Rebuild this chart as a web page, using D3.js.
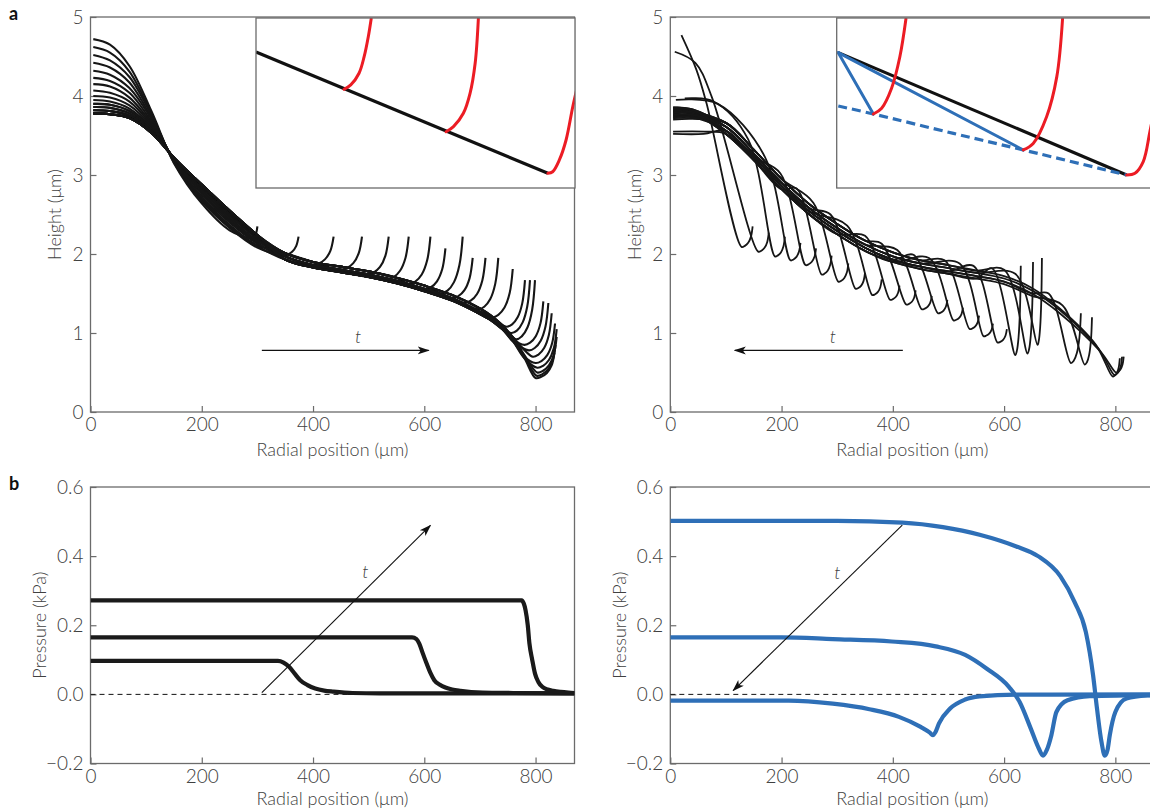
<!DOCTYPE html>
<html>
<head>
<meta charset="utf-8">
<script src="https://cdn.jsdelivr.net/npm/d3@7"></script>
<style>
  body { margin: 0; background: #fff; }
  svg text { font-family: Lato, "Open Sans", sans-serif; fill: #404040; }
</style>
</head>
<body>
<script>
// ---------- shared axes
const xDomain = [0, 870];
const xTicks = [0, 200, 400, 600, 800];
const hTicks = [0, 1, 2, 3, 4, 5];
const pTicks = [-0.2, 0, 0.2, 0.4, 0.6];

// ---------- a, left: film height, fronts moving out
// left part of each profile (x = 5..300), one row per start height
const profX = [5, 35, 70, 110, 150, 200, 250, 300];
const profH = [
  [3.78, 3.77, 3.72, 3.53, 3.22, 2.88, 2.55, 2.24],
  [3.82, 3.81, 3.75, 3.55, 3.22, 2.87, 2.54, 2.23],
  [3.86, 3.85, 3.78, 3.56, 3.22, 2.86, 2.53, 2.22],
  [3.90, 3.89, 3.81, 3.58, 3.21, 2.85, 2.52, 2.21],
  [3.95, 3.93, 3.84, 3.59, 3.21, 2.83, 2.50, 2.20],
  [4.00, 3.98, 3.88, 3.61, 3.21, 2.82, 2.48, 2.19],
  [4.07, 4.04, 3.93, 3.63, 3.20, 2.80, 2.46, 2.17],
  [4.15, 4.12, 3.98, 3.65, 3.20, 2.78, 2.44, 2.16],
  [4.23, 4.19, 4.04, 3.67, 3.19, 2.76, 2.42, 2.14],
  [4.32, 4.27, 4.10, 3.70, 3.19, 2.73, 2.40, 2.13],
  [4.42, 4.36, 4.17, 3.72, 3.18, 2.71, 2.37, 2.11],
  [4.52, 4.45, 4.24, 3.75, 3.17, 2.69, 2.35, 2.10],
  [4.62, 4.55, 4.31, 3.77, 3.16, 2.67, 2.33, 2.08],
  [4.72, 4.65, 4.38, 3.80, 3.15, 2.64, 2.30, 2.06]
];
// outer profile (x = 350..800), three slightly different rows
const baseX = [350, 400, 450, 500, 550, 600, 650, 700, 720, 740, 760, 780, 795, 800];
const baseH = [
  [2.01, 1.90, 1.84, 1.78, 1.70, 1.60, 1.48, 1.31, 1.22, 1.10, 0.94, 0.72, 0.52, 0.45],
  [1.97, 1.86, 1.80, 1.74, 1.66, 1.56, 1.44, 1.27, 1.19, 1.08, 0.92, 0.70, 0.50, 0.43],
  [1.93, 1.83, 1.77, 1.71, 1.63, 1.53, 1.41, 1.24, 1.16, 1.05, 0.89, 0.68, 0.49, 0.43]
];
// per curve: start row, outer row, foot of the rim, tip of the rim
const aProf = [13, 12, 11, 10, 9, 8, 7, 6, 5, 4, 3, 3, 2, 2, 1, 1, 1, 0, 0, 0, 0, 0, 0, 0];
const aBase = [0, 1, 2, 0, 1, 2, 0, 1, 2, 0, 1, 2, 0, 1, 2, 0, 1, 2, 0, 1, 2, 0, 1, 2];
const aRimX = [288, 345, 398, 449, 497, 533, 572, 600, 630, 650, 672, 697, 722, 748, 757, 765, 780, 788, 795, 800, 803, 803, 802, 800];
const aRimH = [2.2, 1.98, 1.86, 1.8, 1.74, 1.68, 1.62, 1.55, 1.5, 1.44, 1.38, 1.3, 1.2, 1.08, 1.0, 0.92, 0.85, 0.78, 0.7, 0.62, 0.56, 0.5, 0.46, 0.43];
const aTipX = [300, 374, 437, 488, 536, 572, 611, 638, 669, 687, 710, 733, 759, 781, 790, 799, 814, 823, 829, 835, 838, 838, 836, 834];
const aTipH = [2.35, 2.22, 2.22, 2.22, 2.22, 2.22, 2.22, 2.07, 2.22, 1.95, 1.95, 1.95, 1.81, 1.67, 1.67, 1.67, 1.40, 1.38, 1.25, 1.12, 1.05, 0.95, 0.85, 0.75];
// shape of a rim, as fractions of its width and rise
const rimFx = [0, 0.3, 0.6, 0.85, 1];
const rimFy = [0, 0.05, 0.2, 0.5, 1];

// ---------- a, right: film height, dimples moving in
const bundX = [5, 50, 100, 150, 200, 250, 300, 350, 400, 450, 500, 550, 600, 650, 700, 750, 780];
const bundH = [
  [3.86, 3.83, 3.66, 3.32, 2.95, 2.63, 2.38, 2.17, 2.02, 1.92, 1.86, 1.79, 1.72, 1.57, 1.31, 0.99, 0.69],
  [3.81, 3.78, 3.61, 3.27, 2.90, 2.58, 2.33, 2.12, 1.97, 1.88, 1.82, 1.76, 1.69, 1.54, 1.29, 0.97, 0.67],
  [3.76, 3.73, 3.56, 3.23, 2.86, 2.54, 2.29, 2.08, 1.93, 1.84, 1.78, 1.72, 1.65, 1.50, 1.25, 0.93, 0.65],
  [3.72, 3.69, 3.52, 3.19, 2.82, 2.50, 2.25, 2.04, 1.90, 1.81, 1.75, 1.69, 1.62, 1.47, 1.22, 0.91, 0.63]
];
const bRow = [0, 1, 2, 3, 2, 3, 0, 1, 2, 3, 0, 1, 2, 3, 0, 1, 2, 3, 0, 1, 2, 3, 0, 1, 2];
const bStartX = [20, 8, 26, 10, 5, 5, 5, 5, 5, 5, 5, 5, 5, 5, 5, 5, 5, 5, 5, 5, 5, 5, 5, 5, 5];
const bStartH = [4.77, 4.56, 3.97, 3.95, 3.52, 3.55, 3.8, 3.74, 3.84, 3.78, 3.72, 3.86, 3.76, 3.82, 3.7, 3.8, 3.75, 3.83, 3.77, 3.85, 3.73, 3.79, 3.81, 3.76, 3.84];
const bShX = [47, 45, 78, 85, 60, 62, 40, 40, 40, 40, 40, 40, 40, 40, 40, 40, 40, 40, 40, 40, 40, 40, 40, 40, 40];
const bShH = [4.33, 4.42, 3.93, 3.9, 3.52, 3.55, 3.8, 3.74, 3.82, 3.77, 3.72, 3.83, 3.75, 3.8, 3.71, 3.79, 3.75, 3.81, 3.76, 3.83, 3.73, 3.78, 3.8, 3.76, 3.82];
const bDropX = [65, 75, 140, 170, 198, 227, 257, 288, 318, 350, 380, 408, 437, 465, 493, 520, 545, 578, 600, 620, 680, 705, 765, 770, 775];
const bDropH = [3.91, 3.98, 3.45, 3.23, 3.02, 2.83, 2.65, 2.5, 2.36, 2.23, 2.13, 2.05, 1.99, 1.95, 1.92, 1.88, 1.85, 1.82, 1.8, 1.75, 1.5, 1.35, 0.85, 0.8, 0.75];
const bMinX = [128, 158, 188, 216, 243, 272, 302, 333, 363, 395, 424, 452, 481, 509, 538, 563, 588, 620, 642, 660, 720, 745, 795, 798, 801];
const bMinH = [2.09, 2.03, 1.97, 1.92, 1.86, 1.74, 1.65, 1.56, 1.48, 1.42, 1.36, 1.30, 1.25, 1.16, 1.05, 0.96, 0.88, 0.72, 0.74, 0.85, 0.62, 0.6, 0.45, 0.47, 0.5];
const bTipX = [148, 177, 206, 234, 262, 290, 320, 350, 380, 412, 441, 470, 498, 526, 555, 580, 605, 630, 652, 668, 738, 758, 808, 812, 815];
const bTipH = [2.35, 2.27, 2.22, 2.14, 2.07, 1.98, 1.88, 1.76, 1.68, 1.6, 1.54, 1.47, 1.42, 1.32, 1.22, 1.12, 1.05, 1.85, 1.9, 1.95, 1.25, 1.2, 0.68, 0.7, 0.7];

// ---------- insets (schematic, 0-100 box units)
const inLLineX = [0, 91.5], inLLineY = [80.5, 8.7];
const inLRedX = [[27.6, 29.7, 32.3, 33.9, 35.2, 36.1], [59.6, 61.9, 65.0, 67.1, 68.7, 69.7], [91.5, 93.0, 95.1, 97.2, 99.3, 100.5]];
const inLRedY = [[58.4, 61.0, 67.9, 77.7, 89.5, 100], [33.3, 36.3, 44.2, 56.0, 73.8, 100], [8.7, 9.6, 16.6, 28.4, 48.1, 58]];
const inRLineX = [0.5, 90.9], inRLineY = [80.1, 7.7];
const inRBlueX = [[0.5, 11.5], [0.5, 58.5]], inRBlueY = [[80.1, 43.8], [80.1, 22.5]];
const inRDashX = [0.5, 11.5, 36.6, 58.5, 90.9], inRDashY = [48.5, 43.8, 32.3, 22.5, 7.7];
const inRRedX = [[11.5, 14.1, 17.2, 19.8, 21.7], [58.5, 61.6, 65.8, 69.0, 70.8], [90.9, 93.5, 96.1, 98.2, 100.5]];
const inRRedY = [[43.8, 47.2, 59.0, 77.7, 100], [22.5, 26.4, 42.2, 65.9, 100], [7.7, 8.7, 15.6, 33.5, 56]];

// ---------- b, left: pressure
const pL1X = [0, 337, 347, 357, 367, 377, 390, 404, 420, 437, 471, 520, 870];
const pL1Y = [0.097, 0.097, 0.092, 0.08, 0.06, 0.041, 0.027, 0.017, 0.011, 0.008, 0.004, 0.003, 0.003];
const pL2X = [0, 578, 586, 591, 597, 604, 611, 618, 628, 638, 650, 665, 705, 760, 870];
const pL2Y = [0.165, 0.165, 0.16, 0.147, 0.12, 0.09, 0.062, 0.041, 0.028, 0.02, 0.014, 0.01, 0.005, 0.004, 0.003];
const pL3X = [0, 775, 779, 782, 786, 789, 794, 799, 805, 812, 822, 832, 845, 859, 870];
const pL3Y = [0.272, 0.272, 0.262, 0.244, 0.2, 0.147, 0.1, 0.06, 0.036, 0.022, 0.014, 0.01, 0.007, 0.005, 0.004];

// ---------- b, right: pressure
const pR1X = [0, 300, 417, 490, 556, 622, 661, 701, 727, 747, 760, 767, 775, 781, 786, 790, 800, 820, 859, 870];
const pR1Y = [0.502, 0.502, 0.497, 0.484, 0.462, 0.428, 0.4, 0.342, 0.266, 0.18, 0.055, -0.041, -0.137, -0.177, -0.16, -0.118, -0.051, -0.012, -0.003, -0.002];
const pR2X = [0, 200, 292, 398, 477, 530, 569, 609, 628, 648, 662, 670, 677, 685, 694, 714, 754, 820, 870];
const pR2Y = [0.165, 0.165, 0.16, 0.153, 0.139, 0.114, 0.074, 0.021, -0.022, -0.099, -0.155, -0.177, -0.16, -0.118, -0.051, -0.017, -0.005, -0.003, -0.002];
const pR3X = [0, 213, 292, 358, 411, 450, 466, 472, 477, 483, 503, 530, 556, 622, 870];
const pR3Y = [-0.018, -0.018, -0.027, -0.043, -0.065, -0.094, -0.11, -0.118, -0.108, -0.084, -0.041, -0.015, -0.006, -0.001, 0];

// arrows [x0, y0, x1, y1] and "t" labels, in data units
const arrowA1 = [308, 0.78, 608, 0.78], tA1 = [481, 0.93];
const arrowA2 = [418, 0.78, 116, 0.78], tA2 = [292, 0.93];
const arrowB1 = [308, 0.005, 611, 0.489], tB1 = [494, 0.35];
const arrowB2 = [417, 0.49, 113, 0.011], tB2 = [300, 0.347];

const BLUE = "#2e6fb7", RED = "#ec1c24", AXIS = "#6b6b6b", INK = "#161616";

const svg = d3.select("body").append("svg")
  .attr("width", 1150).attr("height", 811);
const defs = svg.append("defs");
defs.append("marker").attr("id", "head")
  .attr("viewBox", "0 -5 12 10").attr("refX", 11).attr("refY", 0)
  .attr("markerWidth", 12).attr("markerHeight", 10)
  .attr("markerUnits", "userSpaceOnUse").attr("orient", "auto")
  .append("path").attr("d", "M0,-4L12,0L0,4L3,0Z").attr("fill", "#111");

function panel(id, left, top, h, yDom, yTicks, yFmt, yLabel, yLabDx, xLabY) {
  const x = d3.scaleLinear().domain(xDomain).range([left, left + 484]);
  const y = d3.scaleLinear().domain(yDom).range([top + h, top]);
  defs.append("clipPath").attr("id", id).append("rect")
    .attr("x", left).attr("y", top).attr("width", 484).attr("height", h);

  const ax = svg.append("g").attr("transform", `translate(0,${top + h})`)
    .call(d3.axisBottom(x).tickValues(xTicks).tickSize(-6).tickPadding(6));
  const ay = svg.append("g").attr("transform", `translate(${left},0)`)
    .call(d3.axisLeft(y).tickValues(yTicks).tickSize(-6).tickPadding(7).tickFormat(yFmt));
  [ax, ay].forEach(a => {
    a.attr("font-family", null).attr("font-size", null);
    a.select(".domain").remove();
    a.selectAll(".tick line").attr("stroke", AXIS).attr("stroke-width", 1.2);
    a.selectAll(".tick text").attr("font-size", 19).attr("font-weight", 300);
  });
  svg.append("rect").attr("x", left).attr("y", top).attr("width", 484).attr("height", h)
    .attr("fill", "none").attr("stroke", AXIS).attr("stroke-width", 1.3);

  svg.append("text").attr("x", left + 242).attr("y", xLabY)
    .attr("text-anchor", "middle").attr("font-size", 18).attr("font-weight", 300)
    .text("Radial position (\u03bcm)");
  svg.append("text")
    .attr("transform", `translate(${left - yLabDx},${top + h / 2}) rotate(-90)`)
    .attr("text-anchor", "middle").attr("dominant-baseline", "middle")
    .attr("font-size", 18).attr("font-weight", 300)
    .text(yLabel);

  const plot = svg.append("g").attr("clip-path", `url(#${id})`);
  return { x, y, plot };
}

const fmtH = d3.format("d"), fmtP = d3.format(".1f");
const A1 = panel("cA1", 90.5, 17, 395, [0, 5], hTicks, fmtH, "Height (\u03bcm)", 34, 456);
const A2 = panel("cA2", 670.3, 17, 395, [0, 5], hTicks, fmtH, "Height (\u03bcm)", 34, 456);
const B1 = panel("cB1", 90.5, 487, 276.5, [-0.2, 0.6], pTicks, fmtP, "Pressure (kPa)", 48.5, 805);
const B2 = panel("cB2", 670.3, 487, 276.5, [-0.2, 0.6], pTicks, fmtP, "Pressure (kPa)", 48.5, 805);

svg.append("text").attr("x", 9).attr("y", 20).attr("font-size", 18).attr("font-weight", 700)
  .style("fill", "#111").text("a");
svg.append("text").attr("x", 9).attr("y", 490).attr("font-size", 18).attr("font-weight", 700)
  .style("fill", "#111").text("b");

const crLine = (P) => d3.line().x(d => P.x(d[0])).y(d => P.y(d[1]))
  .curve(d3.curveCatmullRom.alpha(0.5));
const monoLine = (P) => d3.line().x(d => P.x(d[0])).y(d => P.y(d[1]))
  .curve(d3.curveMonotoneX);

function rimPts(x0, h0, x1, h1) {
  return rimFx.map((f, k) => [x0 + f * (x1 - x0), h0 + rimFy[k] * (h1 - h0)]);
}

// ---- a left
aRimX.forEach((rx, i) => {
  const rh = aRimH[i];
  let pts = profX.map((xv, k) => [xv, profH[aProf[i]][k]])
    .concat(baseX.map((xv, k) => [xv, baseH[aBase[i]][k]]))
    .filter(d => d[0] < rx - 10 && d[1] > rh + 0.04);
  pts = pts.concat(rimPts(rx, rh, aTipX[i], aTipH[i]));
  A1.plot.append("path").attr("d", crLine(A1)(pts))
    .attr("fill", "none").attr("stroke", INK).attr("stroke-width", 2.1)
    .attr("stroke-linejoin", "round");
});

// ---- a right
bMinX.forEach((mx, i) => {
  let pts = [[bStartX[i], bStartH[i]], [bShX[i], bShH[i]]];
  bundX.forEach((xv, k) => {
    if (xv > bShX[i] + 25 && xv < bDropX[i] - 25) pts.push([xv, bundH[bRow[i]][k]]);
  });
  pts.push([bDropX[i], bDropH[i]]);
  pts = pts.concat(rimPts(mx, bMinH[i], bTipX[i], bTipH[i]));
  A2.plot.append("path").attr("d", crLine(A2)(pts))
    .attr("fill", "none").attr("stroke", INK).attr("stroke-width", 1.8)
    .attr("stroke-linejoin", "round");
});

// ---- insets
function inset(id, left) {
  const sx = d3.scaleLinear().domain([0, 100]).range([left, left + 319]);
  const sy = d3.scaleLinear().domain([0, 100]).range([188, 19]);
  defs.append("clipPath").attr("id", id).append("rect")
    .attr("x", left).attr("y", 18).attr("width", 319).attr("height", 170);
  svg.append("rect").attr("x", left).attr("y", 18).attr("width", 319).attr("height", 170)
    .attr("fill", "#fff");
  const g = svg.append("g").attr("clip-path", `url(#${id})`);
  svg.append("rect").attr("x", left).attr("y", 18).attr("width", 319).attr("height", 170)
    .attr("fill", "none").attr("stroke", AXIS).attr("stroke-width", 1.3);
  const ln = d3.line().x(d => sx(d[0])).y(d => sy(d[1]));
  const cr = d3.line().x(d => sx(d[0])).y(d => sy(d[1])).curve(d3.curveCatmullRom.alpha(0.5));
  return { g, ln, cr };
}
const zip = (xs, ys) => xs.map((v, k) => [v, ys[k]]);

const IL = inset("cIL", 256);
IL.g.append("path").attr("d", IL.ln(zip(inLLineX, inLLineY)))
  .attr("stroke", "#111").attr("stroke-width", 3.2).attr("fill", "none");
inLRedX.forEach((xs, j) => {
  IL.g.append("path").attr("d", IL.cr(zip(xs, inLRedY[j])))
    .attr("stroke", RED).attr("stroke-width", 3).attr("fill", "none").attr("stroke-linecap", "round");
});

const IR = inset("cIR", 836.7);
IR.g.append("path").attr("d", IR.ln(zip(inRLineX, inRLineY)))
  .attr("stroke", "#111").attr("stroke-width", 3.2).attr("fill", "none");
inRBlueX.forEach((xs, j) => {
  IR.g.append("path").attr("d", IR.ln(zip(xs, inRBlueY[j])))
    .attr("stroke", BLUE).attr("stroke-width", 3).attr("fill", "none").attr("stroke-linecap", "round");
});
IR.g.append("path").attr("d", IR.cr(zip(inRDashX, inRDashY)))
  .attr("stroke", BLUE).attr("stroke-width", 3.2).attr("fill", "none")
  .attr("stroke-dasharray", "9,5");
inRRedX.forEach((xs, j) => {
  IR.g.append("path").attr("d", IR.cr(zip(xs, inRRedY[j])))
    .attr("stroke", RED).attr("stroke-width", 3).attr("fill", "none").attr("stroke-linecap", "round");
});

// ---- b panels
[B1, B2].forEach(P => {
  P.plot.append("line").attr("x1", P.x(0)).attr("x2", P.x(870))
    .attr("y1", P.y(0)).attr("y2", P.y(0))
    .attr("stroke", "#111").attr("stroke-width", 1).attr("stroke-dasharray", "5,4");
});
[[pL1X, pL1Y], [pL2X, pL2Y], [pL3X, pL3Y]].forEach(([xs, ys]) => {
  B1.plot.append("path").attr("d", monoLine(B1)(zip(xs, ys)))
    .attr("fill", "none").attr("stroke", "#1a1a1a").attr("stroke-width", 4.2)
    .attr("stroke-linejoin", "round");
});
[[pR1X, pR1Y], [pR2X, pR2Y], [pR3X, pR3Y]].forEach(([xs, ys]) => {
  B2.plot.append("path").attr("d", monoLine(B2)(zip(xs, ys)))
    .attr("fill", "none").attr("stroke", BLUE).attr("stroke-width", 4.2)
    .attr("stroke-linejoin", "round");
});

// ---- arrows and t
[[A1, arrowA1, tA1], [A2, arrowA2, tA2], [B1, arrowB1, tB1], [B2, arrowB2, tB2]].forEach(([P, a, t]) => {
  svg.append("line")
    .attr("x1", P.x(a[0])).attr("y1", P.y(a[1]))
    .attr("x2", P.x(a[2])).attr("y2", P.y(a[3]))
    .attr("stroke", "#111").attr("stroke-width", 1.1)
    .attr("marker-end", "url(#head)");
  svg.append("text").attr("x", P.x(t[0])).attr("y", P.y(t[1]))
    .attr("text-anchor", "middle").attr("dominant-baseline", "middle")
    .attr("font-size", 18).attr("font-style", "italic").attr("font-weight", 300)
    .text("t");
});
</script>
</body>
</html>
